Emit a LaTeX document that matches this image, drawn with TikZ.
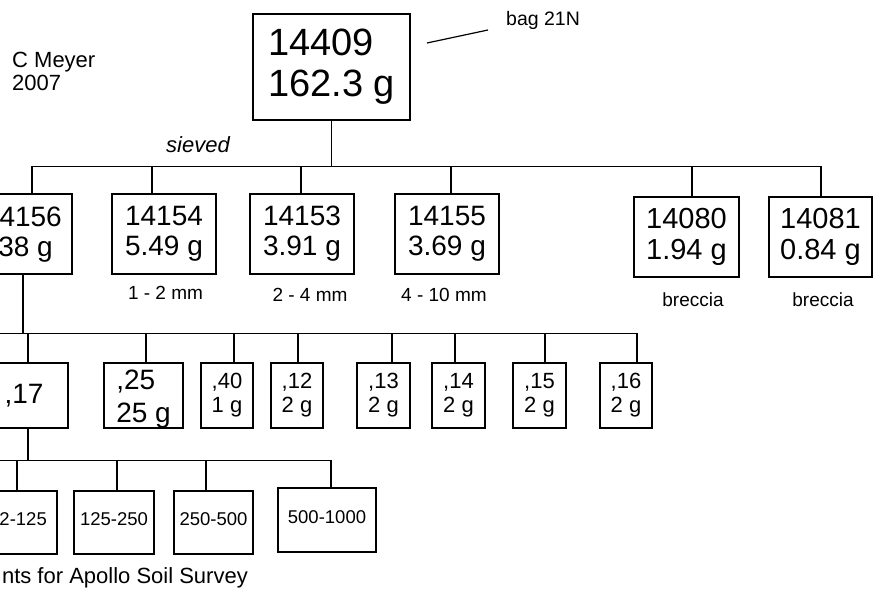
\documentclass[tikz,border=0pt]{standalone}
\usepackage{fontspec}
\setmainfont{Liberation Sans}
\begin{document}
\begin{tikzpicture}[x=1pt,y=-1pt,
  box/.style={draw, line width=1.2pt, inner sep=0pt, align=left},
  conn/.style={line width=1.2pt},
  big/.style={font=\fontsize{38}{41}\selectfont},
  mid/.style={font=\fontsize{28}{30}\selectfont},
  mida/.style={font=\fontsize{29}{31}\selectfont},
  sm/.style={font=\fontsize{22}{24}\selectfont},
  tiny/.style={font=\fontsize{18.5}{20}\selectfont},
  lab/.style={inner sep=0pt, font=\fontsize{19}{21}\selectfont},
  txt/.style={inner sep=0pt},
]
\useasboundingbox (0,0) rectangle (873,593);
\clip (0,0) rectangle (873,593);

% top
\node[box,big,minimum width=157pt,minimum height=106pt] (n14409) at (331.5,67) {14409\\162.3 g};
\node[txt,anchor=north west,align=left,font=\fontsize{22}{23}\selectfont] (author) at (12,52) {C Meyer\\2007};
\node[txt,anchor=base west,font=\fontsize{19.5}{21}\selectfont] (bag) at (506,26) {bag 21N};
\coordinate (bagA) at (427,43);
\draw[conn] (bagA) -- ([xshift=-18pt,yshift=-4pt]bag.base west);
\node[txt,font=\fontsize{22}{24}\selectfont\itshape] (sieved) at (198,145) {sieved};

% row 2
\node[box,minimum width=104pt,minimum height=80pt] (n14156) at (20,234) {};
\node[txt,mid,anchor=base east] (t14156a) at (62,227) {4156};
\node[txt,mid,anchor=base east] (t14156b) at (53,257) {38 g};
\node[box,mid,minimum width=104pt,minimum height=80pt] (n14154) at (164,234) {14154\\5.49 g};
\node[box,mid,minimum width=104pt,minimum height=80pt] (n14153) at (302,234) {14153\\3.91 g};
\node[box,mid,minimum width=104pt,minimum height=80pt] (n14155) at (447,234) {14155\\3.69 g};
\node[box,mida,minimum width=105pt,minimum height=80pt] (n14080) at (686.5,237) {14080\\1.94 g};
\node[box,mida,minimum width=103pt,minimum height=80pt] (n14081) at (820.5,237) {14081\\0.84 g};

\node[lab] (l1) at (165.5,293) {1 - 2 mm};
\node[lab] (l2) at (310,295) {2 - 4 mm};
\node[lab] (l3) at (444,295) {4 - 10 mm};
\node[lab] (l4) at (693,300) {breccia};
\node[lab] (l5) at (823,300) {breccia};

% row 3
\node[box,mid,minimum width=88pt,minimum height=65pt] (n17) at (24,395.5) {,17};
\node[box,font=\fontsize{28}{33}\selectfont,text height=59pt,minimum width=79pt,minimum height=65pt] (n25) at (143.5,395.5) {,25\\25 g};
\node[box,sm,minimum width=52pt,minimum height=65pt] (n40) at (227,395.5) {,40\\1 g};
\node[box,sm,minimum width=52pt,minimum height=65pt] (n12) at (297,395.5) {,12\\2 g};
\node[box,sm,minimum width=53pt,minimum height=65pt] (n13) at (383.5,395.5) {,13\\2 g};
\node[box,sm,minimum width=53pt,minimum height=65pt] (n14) at (458.5,395.5) {,14\\2 g};
\node[box,sm,minimum width=53pt,minimum height=65pt] (n15) at (539.5,395.5) {,15\\2 g};
\node[box,sm,minimum width=52pt,minimum height=65pt] (n16) at (626,395.5) {,16\\2 g};

% row 4
\node[box,minimum width=80pt,minimum height=63pt] (nA) at (17,522.5) {};
\node[txt,tiny,anchor=base east] (tA) at (47,525) {2-125};
\node[box,tiny,text depth=7pt,minimum width=80pt,minimum height=63pt] (nB) at (114,522.5) {125-250};
\node[box,tiny,text depth=7pt,minimum width=79pt,minimum height=63pt] (nC) at (213.5,522.5) {250-500};
\node[box,tiny,text depth=5pt,minimum width=98pt,minimum height=64pt] (nD) at (327,520) {500-1000};

\node[txt,anchor=base east,font=\fontsize{22}{24}\selectfont] (foot) at (248,583) {nts for Apollo Soil Survey};

% connectors level 1
\path (n14409.south) ++(0,46) coordinate (bus1);
\draw[conn] (n14409.south) -- (bus1);
\foreach \n/\s in {n14156/12,n14154/-12,n14153/-1,n14155/4,n14080/5.5,n14081/0.5}
  \draw[conn] ([xshift=\s pt]\n.north) |- (bus1);

% connectors level 2
\path ([xshift=3pt]n14156.south) ++(0,59) coordinate (bus2);
\path (bus2) ++(-30,0) coordinate (bus2L);
\draw[conn] ([xshift=3pt]n14156.south) -- (bus2) -- (bus2L);
\foreach \n/\s in {n17/4,n25/2.5,n40/7,n12/1,n13/8.5,n14/-3.5,n15/5.5,n16/11}
  \draw[conn] ([xshift=\s pt]\n.north) |- (bus2L);

% connectors level 3
\path ([xshift=4pt]n17.south) ++(0,32) coordinate (bus3);
\path (bus3) ++(-40,0) coordinate (bus3L);
\draw[conn] ([xshift=4pt]n17.south) -- (bus3) -- (bus3L);
\foreach \n/\s in {nA/0,nB/3,nC/-7.5,nD/4}
  \draw[conn] ([xshift=\s pt]\n.north) |- (bus3L);
\end{tikzpicture}
\end{document}
